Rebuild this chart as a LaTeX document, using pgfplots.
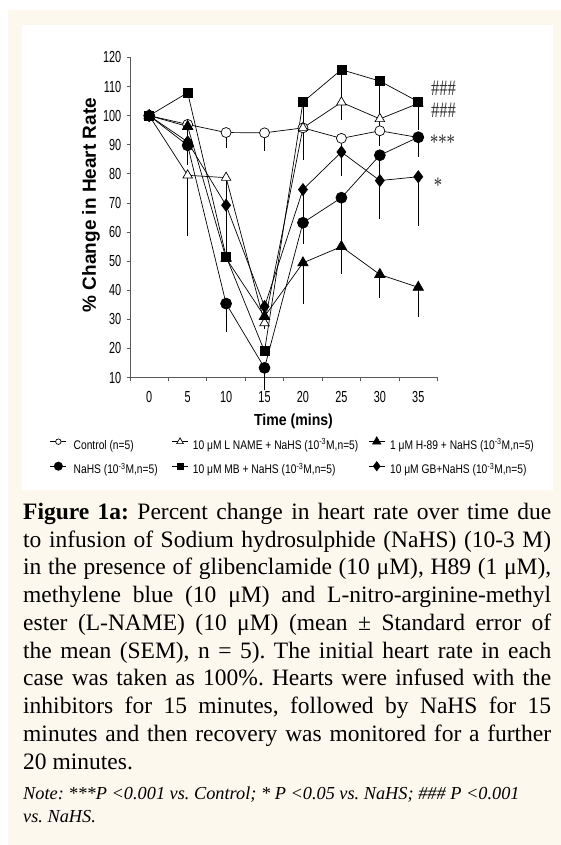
\documentclass[border=0pt]{standalone}
\usepackage{fontspec}
\setmainfont{Liberation Serif}
\newfontfamily\narrowsans[FakeStretch=0.68]{Liberation Sans}
\newfontfamily\legsans[FakeStretch=0.82]{Liberation Sans}
\newfontfamily\xlabfont[FakeStretch=0.88]{Liberation Sans}
\newfontfamily\plainsans{Liberation Sans}
\newfontfamily\annotfont[FakeStretch=0.75]{Liberation Serif}
\usepackage{pgfplots}
\pgfplotsset{compat=1.18}
\usepackage{pgfplotstable}
\definecolor{beige}{RGB}{252,248,238}
\newcommand\tickfont{\narrowsans\fontsize{16pt}{16pt}\selectfont}
\newcommand\legstrut{\rule[-7.5pt]{0pt}{24pt}}
\newcommand\lega[1]{\hspace*{7pt}\makebox[98pt][l]{\legstrut#1}}
\newcommand\legb[1]{\hspace*{4.5pt}\makebox[175.5pt][l]{\legstrut#1}}
\newcommand\legc[1]{\hspace*{5pt}\makebox[165pt][l]{\legstrut#1}}
\newcommand\capline[1]{\makebox[528pt][s]{#1}}
\newcommand\mthree{\textsuperscript{-3}}

\pgfplotstableread{
x y ep em
0 100 0 0
5 97.0 0 1.5
10 94.2 0 4
15 94.1 0 5
20 95.8 0 5
25 92.2 0 3
30 94.8 0 4
35 92.5 0 5
}\ctrl
\pgfplotstableread{
x y ep em
0 100 0 0
5 79.5 0 19.5
10 78.7 0 23.5
15 28.7 0 0
20 95.8 0 6
25 104.6 0 4.8
30 98.9 0 3
35 104.2 0 3
}\lname
\pgfplotstableread{
x y ep em
0 100 0 0
5 96.3 0 2
10 51.0 0 0
15 31.0 0 3
20 49.4 0 13.1
25 55.0 0 8.2
30 45.4 0 6.7
35 41.0 0 9.1
}\hef
\pgfplotstableread{
x y ep em
0 100 0 0
5 89.8 0 5.5
10 35.4 0 8.6
15 13.3 0 6.3
20 63.2 0 6.1
25 71.8 0 16.8
30 86.4 0 9
35 92.6 0 5.6
}\nahs
\pgfplotstableread{
x y ep em
0 100 0 0
5 107.9 0 0
10 51.6 3.5 0
15 19.0 0 0
20 104.7 0 18.6
25 115.8 0 11.5
30 111.9 0 10.7
35 104.8 0 8.6
}\mb
\pgfplotstableread{
x y ep em
0 100 0 0
5 91.0 0 0
10 69.2 0 2.5
15 34.4 0 0
20 74.6 0 17.5
25 87.5 0 7
30 77.7 0 12
35 79.0 0 15.6
}\gb

\begin{document}
\frenchspacing
\begin{tikzpicture}[x=1pt,y=1pt]
\useasboundingbox (0,0) rectangle (561,845);
\fill[white] (0,0) rectangle (561,845);
\fill[beige] (8,0) rectangle (561,835);
\fill[white] (22,355) rectangle (553,820);

\begin{axis}[
  at={(130pt,467.5pt)}, anchor=south west,
  scale only axis, width=307.5pt, height=320pt,
  xmin=-2.5, xmax=37.5, ymin=10, ymax=120,
  clip=false,
  axis x line*=bottom, axis y line*=left,
  axis line style={black!65, line width=0.8pt},
  tick align=outside,
  xtick={0,5,...,35},
  minor xtick={-2.5,2.5,...,37.5},
  ytick={10,20,...,120},
  major tick length=3.5pt,
  minor tick length=4pt,
  every tick/.style={black!65, line width=0.8pt},
  major x tick style={draw=none},
  /pgf/number format/assume math mode=true,
  ticklabel style={font=\tickfont},
  xticklabel style={inner sep=0pt, yshift=-10pt},
  yticklabel style={inner sep=0pt, xshift=-5pt},
  every axis plot/.append style={black, line width=0.7pt},
  legend columns=3,
  legend cell align=left,
  legend style={at={(axis description cs:-0.26016,-0.1725)}, anchor=north west,
    draw=none, fill=none, inner sep=0pt, outer sep=0pt,
    column sep=0pt, row sep=6.5pt, font=\legsans\fontsize{12.5pt}{12.5pt}\selectfont,
    nodes={inner sep=0pt, outer sep=0pt}},
  legend image code/.code={\draw[#1, mark repeat=2, mark phase=2] plot coordinates {(0pt,0pt) (8pt,0pt) (16pt,0pt)};},
  ebar/.style={forget plot, draw=none, mark=none,
    error bars/.cd, y dir=both, y explicit, error mark=-,
    error bar style={draw=black, line width=0.7pt},
    error mark options={draw=black, line width=0.7pt, mark size=3.5pt}},
]
% error bars first (underneath the markers)
\addplot[ebar] table[x=x,y=y,y error plus=ep,y error minus=em]{\ctrl};
\addplot[ebar] table[x=x,y=y,y error plus=ep,y error minus=em]{\lname};
\addplot[ebar] table[x=x,y=y,y error plus=ep,y error minus=em]{\hef};
\addplot[ebar] table[x=x,y=y,y error plus=ep,y error minus=em]{\nahs};
\addplot[ebar] table[x=x,y=y,y error plus=ep,y error minus=em]{\mb};
\addplot[ebar] table[x=x,y=y,y error plus=ep,y error minus=em]{\gb};
% series
\addplot[mark=*, mark size=5pt, mark options={fill=white, draw=black, line width=0.7pt},
  legend image post style={every mark/.append style={scale=0.55}}] table[x=x,y=y]{\ctrl};
\addlegendentry{\lega{Control (n=5)}}
\addplot[mark=triangle*, mark size=5.5pt, mark options={fill=white, draw=black, line width=0.7pt},
  legend image post style={every mark/.append style={scale=0.7}}] table[x=x,y=y]{\lname};
\addlegendentry{\legb{10 μM L NAME + NaHS (10\mthree M,n=5)}}
\addplot[mark=triangle*, mark size=6pt, mark options={fill=black, draw=black},
  legend image post style={every mark/.append style={scale=0.8}}] table[x=x,y=y]{\hef};
\addlegendentry{\legc{1 μM H-89 + NaHS (10\mthree M,n=5)}}
\addplot[mark=*, mark size=5.5pt, mark options={fill=black, draw=black},
  legend image post style={every mark/.append style={scale=0.75}}] table[x=x,y=y]{\nahs};
\addlegendentry{\lega{NaHS (10\mthree M,n=5)}}
\addplot[mark=square*, mark size=4.5pt, mark options={fill=black, draw=black},
  legend image post style={every mark/.append style={scale=0.7}}] table[x=x,y=y]{\mb};
\addlegendentry{\legb{10 μM MB + NaHS (10\mthree M,n=5)}}
\addplot[mark=diamond*, mark size=6pt, mark options={fill=black, draw=black},
  legend image post style={every mark/.append style={scale=0.75}}] table[x=x,y=y]{\gb};
\addlegendentry{\legc{10 μM GB+NaHS (10\mthree M,n=5)}}
\end{axis}

% axis titles
\node[rotate=90, font=\plainsans\bfseries\fontsize{19pt}{19pt}\selectfont] at (91,640) {\% Change in Heart Rate};
\node[font=\xlabfont\bfseries\fontsize{16pt}{16pt}\selectfont] at (293.5,423.3) {Time (mins)};

% significance marks
\begin{scope}[every node/.style={anchor=base, inner sep=0pt, text=black!80, font=\annotfont\fontsize{22pt}{22pt}\selectfont}]
\node at (443.4,749.3) {\#\#\#};
\node at (443.4,727.6) {\#\#\#};
\node at (442.5,695) {***};
\node at (438,652.3) {*};
\end{scope}

% caption
\begin{scope}[every node/.style={anchor=base west, inner sep=0pt, font=\fontsize{23.5pt}{27pt}\selectfont}]
\node at (23,325.7) {\capline{\textbf{Figure 1a:} Percent change in heart rate over time due}};
\node at (23,297.95) {\capline{to infusion of Sodium hydrosulphide (NaHS) (10-3 M)}};
\node at (23,270.2) {\capline{in the presence of glibenclamide (10 μM), H89 (1 μM),}};
\node at (23,242.45) {\capline{methylene blue (10 μM) and L-nitro-arginine-methyl}};
\node at (23,214.7) {\capline{ester (L-NAME) (10 μM) (mean ± Standard error of}};
\node at (23,186.95) {\capline{the mean (SEM), n = 5). The initial heart rate in each}};
\node at (23,159.2) {\capline{case was taken as 100\%. Hearts were infused with the}};
\node at (23,131.45) {\capline{inhibitors for 15 minutes, followed by NaHS for 15}};
\node at (23,103.7) {\capline{minutes and then recovery was monitored for a further}};
\node at (23,75.95) {20 minutes.};
\end{scope}
\begin{scope}[every node/.style={anchor=base west, inner sep=0pt, font=\itshape\fontsize{18.3pt}{22pt}\selectfont}]
\node at (23,45) {Note: ***P <0.001 vs. Control; * P <0.05 vs. NaHS; \#\#\# P <0.001};
\node at (23,22) {vs. NaHS.};
\end{scope}
\end{tikzpicture}
\end{document}
